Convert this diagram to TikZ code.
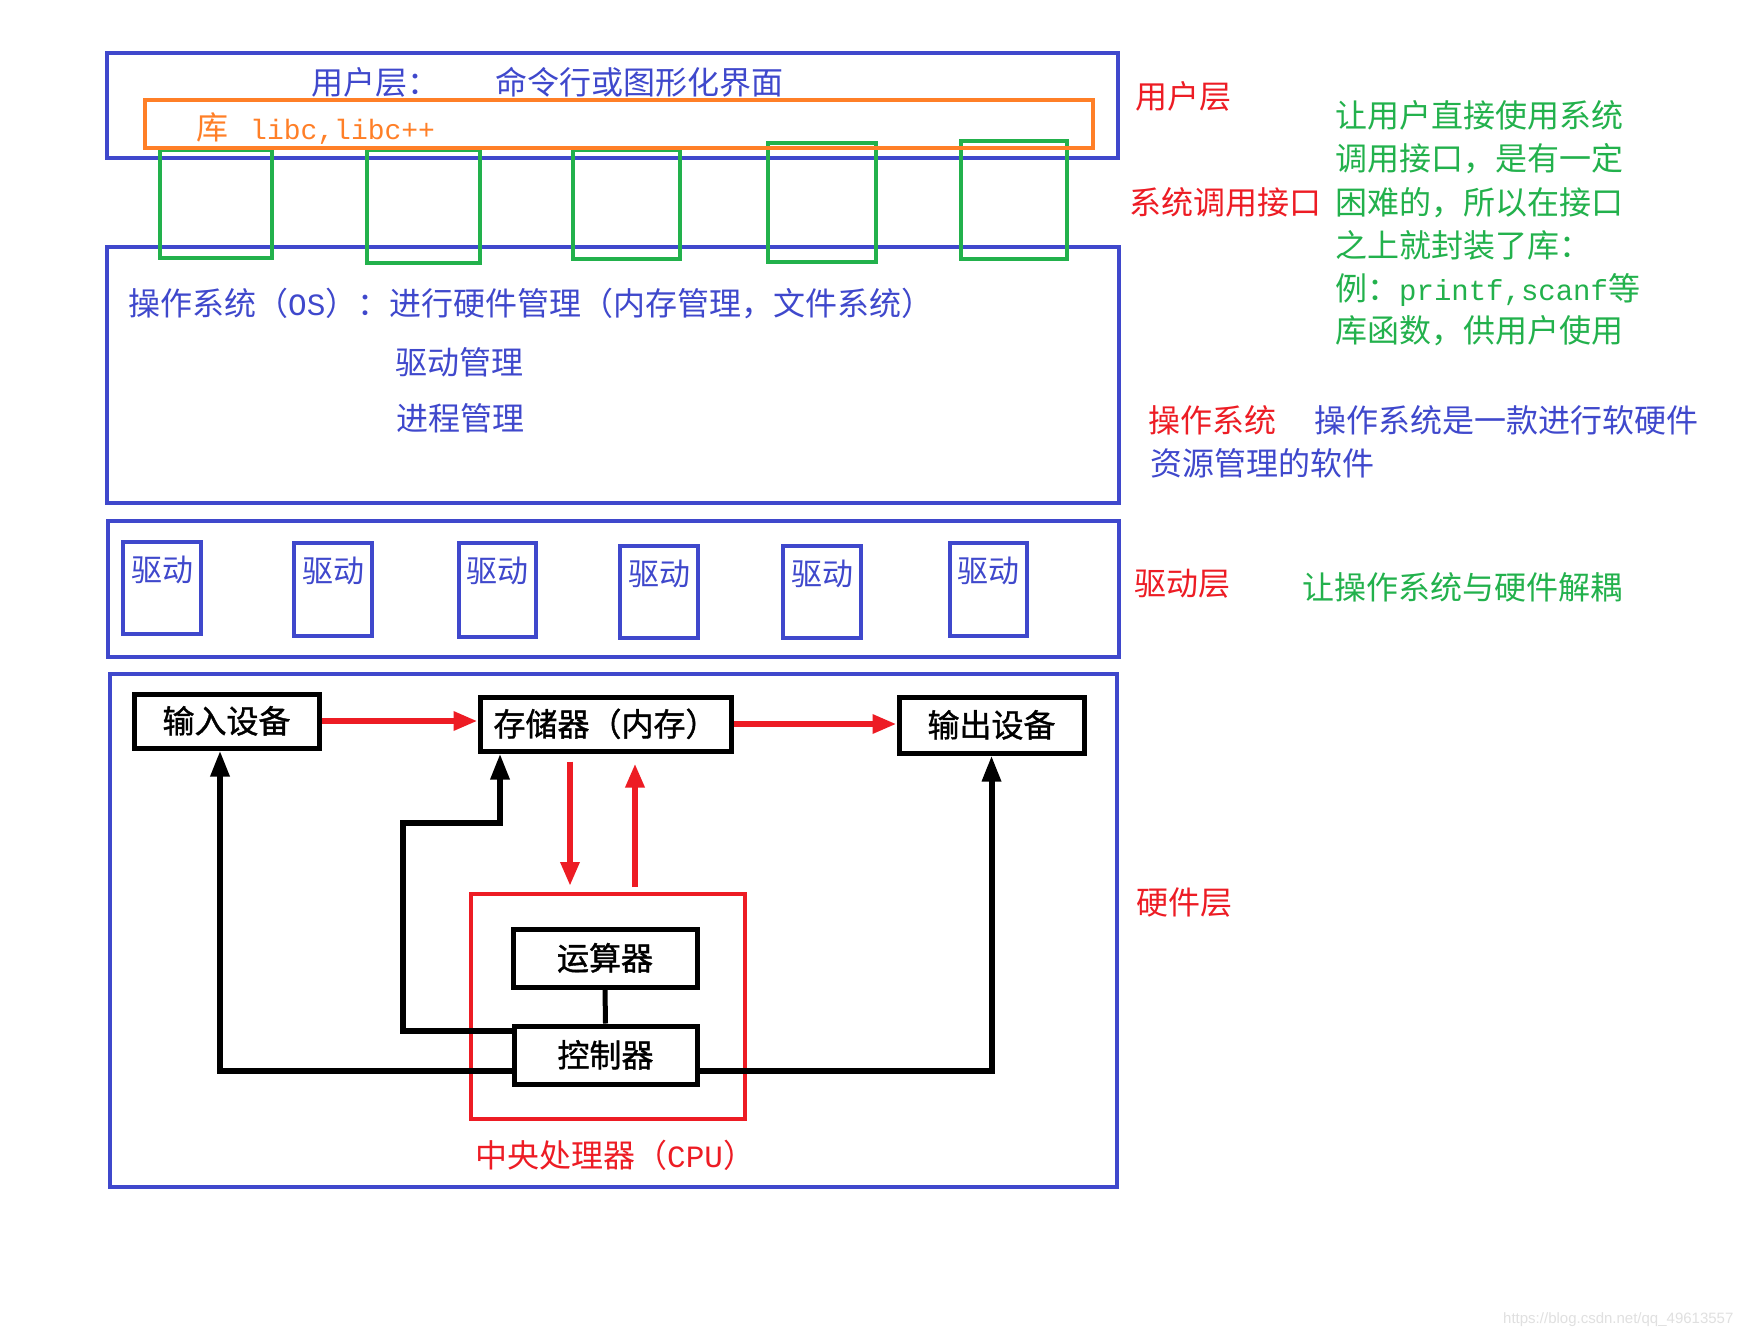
\documentclass[tikz,border=0pt]{standalone}
\usepackage{fontspec}
\setmainfont{Noto Sans CJK SC}
\newfontfamily\monof{Liberation Mono}
\newfontfamily\wmfont{Liberation Sans}
\newfontfamily\cjkbold[FakeBold=1.2]{Noto Sans CJK SC}
\usetikzlibrary{arrows.meta,calc}
\definecolor{ublue}{HTML}{3F48CC}
\definecolor{uorange}{HTML}{FF7F27}
\definecolor{ugreen}{HTML}{22B14C}
\definecolor{ured}{HTML}{ED1C24}
\newcommand{\myfs}[1]{\fontsize{#1pt}{#1pt}\selectfont}
\begin{document}
\begin{tikzpicture}[x=1pt,y=-1pt,
  layer/.style={draw=ublue,line width=4pt,inner sep=0pt},
  sysif/.style={draw=ugreen,line width=4pt,inner sep=0pt},
  libbox/.style={draw=uorange,line width=4pt,inner sep=0pt},
  drvbox/.style={draw=ublue,line width=4.5pt,inner sep=0pt,minimum width=78pt},
  drvtxt/.style={inner sep=0pt,text=ublue,font=\myfs{31},text height=27pt,text depth=4pt},
  hwbox/.style={draw=black,line width=5pt,inner sep=0pt,font=\cjkbold\myfs{32},text height=28pt,text depth=4pt},
  lbl/.style={anchor=west,inner sep=0pt,font=\myfs{32},text height=28pt,text depth=4pt},
  redarr/.style={draw=ured,line width=6pt,-{Triangle[length=24pt,width=18pt]}},
  blkarr/.style={draw=black,line width=6pt,-{Triangle[length=26pt,width=18pt]}},
]
\fill[white] (0,0) rectangle (1755,1338);
\useasboundingbox (0,0) rectangle (1755,1338);

% layers
\node[layer,minimum width=1011pt,minimum height=105pt] (user) at (612.5,105.5) {};
\node[layer,minimum width=1012pt,minimum height=256pt] (os) at (613,375) {};
\node[layer,minimum width=1011pt,minimum height=136pt] (drv) at (613.5,589) {};
\node[layer,minimum width=1007pt,minimum height=513pt] (hw) at (613.5,930.5) {};

% system call interface boxes
\node[sysif,minimum width=112pt,minimum height=108pt] (s1) at (216,204) {};
\node[sysif,minimum width=113pt,minimum height=113pt] (s2) at (423.5,206.5) {};
\node[sysif,minimum width=107pt,minimum height=109pt] (s3) at (626.5,204.5) {};
\node[sysif,minimum width=108pt,minimum height=119pt] (s4) at (822,202.5) {};
\node[sysif,minimum width=106pt,minimum height=118pt] (s5) at (1014,200) {};

% library box
\node[libbox,minimum width=948pt,minimum height=48pt] (lib) at (619,124) {};
\node[lbl,text=uorange] (libtxt) at (196,127) {库\hspace{22pt}{\monof\myfs{28}libc,libc++}};

% user layer text
\node[lbl,text=ublue] (ut1) at (311,82) {用户层：};
\node[lbl,text=ublue] (ut2) at (495,82) {命令行或图形化界面};

% OS text
\node[lbl,text=ublue] (ost1) at (128,303) {操作系统（{\monof\myfs{31}OS}）：进行硬件管理（内存管理，文件系统）};
\node[lbl,text=ublue] (ost2) at (395,362) {驱动管理};
\node[lbl,text=ublue] (ost3) at (396,418) {进程管理};

% drivers
\node[drvbox,minimum height=92pt] (d1) at (162,588) {};
\node[drvbox,minimum height=93pt] (d2) at (333,589.5) {};
\node[drvbox,minimum height=94pt,minimum width=77pt] (d3) at (497.5,590) {};
\node[drvbox,minimum height=92pt] (d4) at (659,592) {};
\node[drvbox,minimum height=92pt] (d5) at (822,592) {};
\node[drvbox,minimum height=93pt,minimum width=77pt] (d6) at (988.5,589.5) {};
\foreach \d in {d1,d2,d3,d4,d5,d6}{
  \node[drvtxt] (\d t) at ($(\d.north)+(0,30)$) {驱动};
}

% hardware
\node[hwbox,minimum width=185pt,minimum height=54pt] (in) at (226.5,721) {输入设备};
\node[hwbox,minimum width=251pt,minimum height=54pt] (mem) at (605.5,724) {存储器（内存）};
\node[hwbox,minimum width=185pt,minimum height=56pt] (out) at (991.5,725) {输出设备};
\node[draw=ured,line width=4pt,minimum width=274pt,minimum height=225pt,inner sep=0pt] (cpu) at (608,1006.5) {};
\node[hwbox,minimum width=184pt,minimum height=58pt] (alu) at (605,958) {运算器};
\node[hwbox,minimum width=183pt,minimum height=58pt] (ctrl) at (605.5,1055) {控制器};
\node[lbl,text=ured] (cpulbl) at (475,1155) {中央处理器（{\monof\myfs{31}CPU}）};

% red arrows
\coordinate (dnx) at (570,0);
\coordinate (upx) at (635,0);
\draw[redarr] (in.east) -- (in.east -| mem.west);
\draw[redarr] (mem.east) -- (mem.east -| out.west);
\draw[redarr] ($(mem.south -| dnx)+(0,8)$) -- ($(cpu.north -| dnx)+(0,-6)$);
\draw[redarr] ($(cpu.north -| upx)+(0,-5)$) -- ($(mem.south -| upx)+(0,10)$);

% black connectors
\draw[draw=black,line width=5pt] (alu.south) -- (ctrl.north);
\coordinate (k1) at (403,823);
\draw[blkarr] ($(ctrl.west)+(0,16)$) -| ($(in.south)+(-6.5,0)$);
\draw[blkarr] ($(ctrl.west)+(0,-24)$) -| (k1) -| ($(mem.south)+(-105.5,0)$);
\draw[blkarr] ($(ctrl.east)+(0,16)$) -| (out.south);

% right side labels
\node[lbl,text=ured] (r1) at (1135,96) {用户层};
\node[lbl,text=ured] (r2) at (1129,202) {系统调用接口};
\node[lbl,text=ugreen] (g1) at (1335,115) {让用户直接使用系统};
\node[lbl,text=ugreen] (g2) at (1335,158) {调用接口，是有一定};
\node[lbl,text=ugreen] (g3) at (1335,202) {困难的，所以在接口};
\node[lbl,text=ugreen] (g4) at (1335,245) {之上就封装了库：};
\node[lbl,text=ugreen] (g5) at (1335,288) {例：{\monof\myfs{29}printf,scanf}等};
\node[lbl,text=ugreen] (g6) at (1335,330) {库函数，供用户使用};
\node[lbl,text=ured] (r3) at (1148,420) {操作系统};
\node[lbl,text=ublue] (b1) at (1314,420) {操作系统是一款进行软硬件};
\node[lbl,text=ublue] (b2) at (1150,463) {资源管理的软件};
\node[lbl,text=ured] (r4) at (1134,583) {驱动层};
\node[lbl,text=ugreen] (g7) at (1302,587) {让操作系统与硬件解耦};
\node[lbl,text=ured] (r5) at (1136,902) {硬件层};

% watermark
\node[anchor=west,inner sep=0pt,text=black!12,font=\wmfont\myfs{15}] (wm) at (1503,1320) {https://blog.csdn.net/qq\_49613557};
\end{tikzpicture}
\end{document}
